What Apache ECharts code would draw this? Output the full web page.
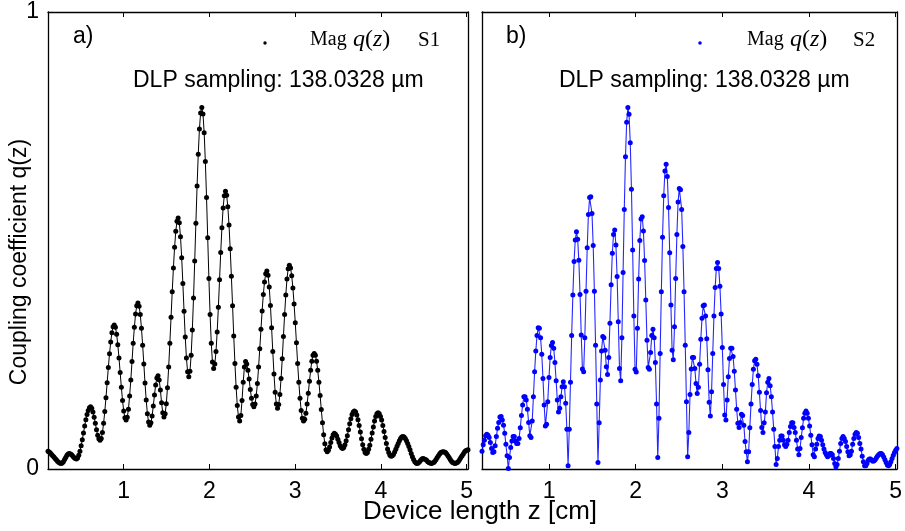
<!DOCTYPE html>
<html><head><meta charset="utf-8">
<script src="https://cdn.jsdelivr.net/npm/echarts@6/dist/echarts.min.js"></script>
<style>html,body{margin:0;padding:0;background:#fff}#c{width:905px;height:531px}</style>
</head><body><div id="c"></div>
<script>
// DLP sampling step (138.0328 µm) expressed in cm
const SAMPLING_CM = 138.0328e-4;
// first sample position of each panel (cm)
const z0S1 = 0.117;
const z0S2 = 0.225;
const xTickValues = [1, 2, 3, 4, 5];
const yTickValues = [0, 1];
const panelLabels = ['a)', 'b)'];
const seriesNames = ['Mag q(z) S1', 'Mag q(z) S2'];
const samplingText = 'DLP sampling: 138.0328 \u00b5m';
const xTitle = 'Device length z [cm]';
const yTitle = 'Coupling coefficient q(z)';

// |q(z)| for S1, one value per DLP sample
const qS1 = [
.039,.037,.035,.032,.029,.026,.023,.020,.017,.015,.013,.012,
.013,.016,.021,.025,.030,.033,.034,
.033,.031,.028,.025,.023,.022,
.024,.030,.039,.051,.064,.079,.094,.108,.119,.128,.134,.136,
.133,.125,.113,.100,.086,.074,.066,.063,
.067,.080,.100,.126,.156,.189,.222,.252,.278,.298,.311,.315,
.310,.295,.272,.243,.211,.179,.150,.127,.112,.107,
.113,.131,.160,.195,.235,.275,.310,.339,.357,.363,
.356,.338,.308,.271,.230,.188,.151,.121,.103,.096,
.101,.116,.138,.162,.184,.199,.204,
.195,.173,.145,.123,.114,
.121,.143,.178,.223,.275,.332,.388,.440,.485,.520,.542,.549,
.539,.508,.462,.406,.345,.289,.243,.213,.202,
.214,.249,.304,.374,.455,.538,.619,.689,.744,.779,.791,
.777,.736,.673,.594,.506,.417,.338,.275,.234,.220,
.230,.257,.300,.354,.414,.474,.528,.571,.598,.608,
.599,.574,.534,.482,.422,.357,.291,.231,.179,.139,.114,.105,
.117,.150,.190,.223,.235,
.230,.216,.197,.174,.155,.141,.136,
.142,.160,.187,.223,.263,.306,.346,.382,.409,.427,.433,
.424,.398,.358,.309,.257,.208,.168,.142,.133,
.141,.163,.198,.241,.290,.338,.381,.416,.438,.446,
.440,.423,.396,.361,.320,.276,.231,.190,.155,.128,.111,.105,
.109,.122,.142,.166,.192,.216,.236,.249,.253,
.249,.236,.216,.190,.161,.130,.101,.075,.055,.042,.038,
.041,.048,.058,.068,.075,.078,
.076,.072,.065,.058,.051,.047,.045,
.047,.053,.062,.073,.086,.099,.110,.119,.125,.127,
.125,.118,.108,.095,.081,.066,.053,.043,.036,.034,
.036,.043,.052,.065,.079,.092,.105,.115,.121,.123,
.121,.115,.107,.095,.082,.069,.056,.044,.036,.030,.028,
.029,.032,.037,.043,.050,.056,.062,.067,.070,.071,
.070,.067,.062,.056,.049,.042,.034,.027,.021,.016,.013,.012,
.013,.016,.019,.022,.023,
.022,.021,.019,.016,.014,.013,.012,
.013,.014,.017,.021,.025,.029,.033,.036,.037,.038,
.037,.036,.033,.029,.025,.021,.017,.014,.013,.012,
.013,.014,.017,.021,.025,.029,.033,.037,.040,.041,.042
];

// |q(z)| for S2, one value per DLP sample
const qS2 = [
.039,.053,.063,.073,.076,.074,.069,.058,.045,.036,
.038,.051,.071,.089,.102,.114,.115,.107,.096,.078,
.054,.029,.001,.025,.047,.061,.071,.071,.061,.056,
.056,.067,.090,.117,.140,.158,.158,.151,.131,.102,
.073,.069,.105,.158,.213,.258,.292,.309,.308,.287,
.251,.198,.140,.094,.098,.147,.200,.244,.270,.277,
.264,.233,.193,.151,.125,.133,.158,.180,.191,.180,
.144,.087,.007,.087,.190,.292,.381,.454,.501,.519,
.503,.457,.382,.293,.219,.213,.287,.389,.484,.557,
.594,.596,.559,.489,.389,.271,.142,.014,.101,.195,
.258,.290,.287,.260,.224,.207,.244,.319,.403,.472,
.513,.523,.490,.421,.322,.220,.193,.287,.430,.568,
.683,.759,.791,.776,.714,.612,.479,.335,.218,.212,
.308,.416,.500,.547,.552,.521,.456,.370,.282,.222,
.218,.255,.292,.306,.287,.233,.142,.025,.111,.253,
.388,.507,.598,.652,.667,.640,.572,.473,.359,.260,
.239,.311,.417,.513,.584,.614,.611,.568,.487,.388,
.271,.147,.027,.080,.163,.219,.244,.244,.220,.187,
.165,.179,.229,.284,.330,.357,.359,.335,.285,.217,
.146,.116,.169,.253,.335,.397,.439,.452,.439,.400,
.339,.266,.185,.118,.107,.151,.202,.242,.264,.264,
.246,.214,.173,.131,.100,.091,.102,.120,.117,.096,
.060,.038,.016,.038,.090,.142,.185,.218,.237,.240,
.229,.204,.168,.128,.091,.080,.101,.125,.167,.190,
.198,.182,.158,.125,.087,.049,.010,.023,.049,.063,
.072,.072,.063,.053,.049,.054,.063,.080,.093,.101,
.101,.091,.080,.063,.044,.031,.045,.069,.090,.111,
.122,.127,.122,.111,.094,.074,.053,.031,.027,.044,
.054,.067,.072,.071,.063,.053,.044,.036,.031,.027,
.029,.034,.034,.031,.023,.012,.005,.010,.023,.039,
.056,.067,.071,.067,.060,.049,.038,.029,.031,.039,
.054,.067,.076,.080,.078,.069,.056,.044,.028,.016,
.007,.007,.012,.019,.022,.022,.019,.017,.018,.021,
.025,.029,.032,.034,.034,.031,.026,.020,.014,.009,
.007,.010,.016,.023,.030,.036,.041,.045
];

const SANS = 'Liberation Sans, Arial, Helvetica, sans-serif';
const SERIF = 'Liberation Serif, Times New Roman, serif';

function toPairs(z0, vals) { return vals.map((v, i) => [z0 + i * SAMPLING_CM, v]); }
const dS1 = toPairs(z0S1, qS1);
const dS2 = toPairs(z0S2, qS2);

const axisLineStyle = { color: '#000', width: 1.3 };
function xAx(grid, pos, minV, maxV, labels) {
  return {
    type: 'value', gridIndex: grid, position: pos, min: minV, max: maxV,
    axisLine: { show: true, onZero: false, lineStyle: axisLineStyle },
    axisTick: { show: true, inside: true, length: 5, customValues: xTickValues, lineStyle: { color: '#000', width: 1 } },
    axisLabel: { show: labels, customValues: xTickValues, fontSize: 23, fontFamily: SANS, color: '#000', margin: 11 },
    splitLine: { show: false }
  };
}
function yAx(grid, pos, labels) {
  return {
    type: 'value', gridIndex: grid, position: pos, min: 0, max: 1,
    axisLine: { show: true, onZero: false, lineStyle: axisLineStyle },
    axisTick: { show: true, inside: true, length: 5, customValues: yTickValues, lineStyle: { color: '#000', width: 1 } },
    axisLabel: { show: labels, customValues: yTickValues, fontSize: 23, fontFamily: SANS, color: '#000', margin: 9 },
    splitLine: { show: false }
  };
}
const maxS1 = z0S1 + (qS1.length - 1) * SAMPLING_CM;
const maxS2 = z0S2 + (qS2.length - 1) * SAMPLING_CM;

function txt(x, y, text, size, family, extra) {
  return { type: 'text', x: x, y: y, silent: true, z: 100,
    style: Object.assign({ text: text, fontSize: size, fontFamily: family, fill: '#000',
      align: 'left', verticalAlign: 'middle', textAlign: 'left', textVerticalAlign: 'middle' }, extra || {}) };
}
const mathRich = {
  i: { fontFamily: SERIF, fontStyle: 'italic', fontSize: 24, fill: '#000' },
  n: { fontFamily: SERIF, fontSize: 24, fill: '#000' }
};
const qzText = '{i|q}{n|(}{i|z}{n|)}';

const chart = echarts.init(document.getElementById('c'), null, { renderer: 'canvas' });
chart.setOption({
  animation: false,
  backgroundColor: '#fff',
  grid: [
    { left: 48, top: 12, width: 420, height: 457, containLabel: false },
    { left: 482, top: 12, width: 420, height: 457, containLabel: false }
  ],
  xAxis: [
    xAx(0, 'bottom', z0S1, maxS1, true),
    xAx(0, 'top', z0S1, maxS1, false),
    xAx(1, 'bottom', z0S2, maxS2, true),
    xAx(1, 'top', z0S2, maxS2, false)
  ],
  yAxis: [
    yAx(0, 'left', true),
    yAx(0, 'right', false),
    yAx(1, 'left', false),
    yAx(1, 'right', false)
  ],
  series: [
    { name: seriesNames[0], type: 'line', xAxisIndex: 0, yAxisIndex: 0, data: dS1,
      symbol: 'circle', symbolSize: 5, showAllSymbol: true, sampling: null,
      lineStyle: { color: '#000', width: 1 }, itemStyle: { color: '#000', borderWidth: 0 } },
    { name: seriesNames[1], type: 'line', xAxisIndex: 2, yAxisIndex: 2, data: dS2,
      symbol: 'circle', symbolSize: 5, showAllSymbol: true, sampling: null,
      lineStyle: { color: '#0000ff', width: 1.1, opacity: 0.85 }, itemStyle: { color: '#0000ff', borderWidth: 0 } }
  ],
  graphic: [
    txt(73, 37, panelLabels[0], 23, SANS),
    txt(506, 37, panelLabels[1], 23, SANS),
    { type: 'circle', shape: { cx: 265, cy: 43, r: 1.7 }, style: { fill: '#000' }, z: 100 },
    txt(310, 40, 'Mag', 20, SERIF),
    txt(353, 40, qzText, 24, SERIF, { rich: mathRich }),
    txt(418, 40, 'S1', 21, SERIF),
    { type: 'circle', shape: { cx: 700, cy: 43, r: 1.8 }, style: { fill: '#0000ff' }, z: 100 },
    txt(747, 40, 'Mag', 20, SERIF),
    txt(790, 40, qzText, 24, SERIF, { rich: mathRich }),
    txt(853, 40, 'S2', 21, SERIF),
    txt(133, 81, samplingText, 23, SANS),
    txt(559, 81, samplingText, 23, SANS),
    txt(363, 512, xTitle, 26, SANS),
    { type: 'text', x: 20, y: 262, rotation: Math.PI / 2, silent: true, z: 100,
      style: { text: yTitle, fontSize: 23, fontFamily: SANS, fill: '#000',
        align: 'center', verticalAlign: 'middle', textAlign: 'center', textVerticalAlign: 'middle' } }
  ]
});
</script></body></html>
